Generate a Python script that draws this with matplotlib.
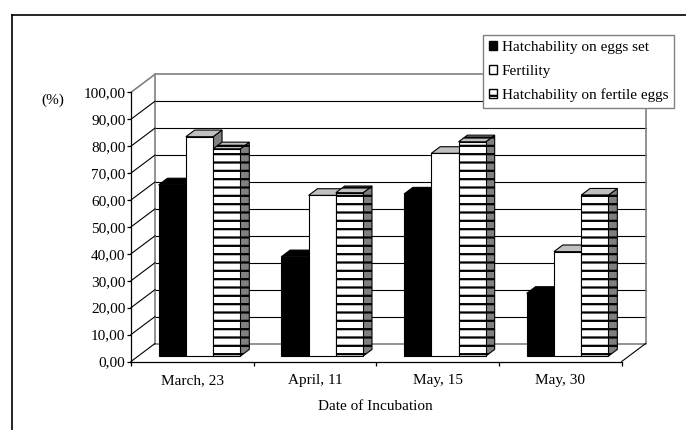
import numpy as np
import matplotlib
matplotlib.use("Agg")
import matplotlib.pyplot as plt
from matplotlib.patches import Polygon, Patch
from matplotlib.lines import Line2D

plt.rcParams['font.family'] = ['Liberation Serif', 'DejaVu Serif']
plt.rcParams['hatch.linewidth'] = 1.6

dates = ["March, 23", "April, 11", "May, 15", "May, 30"]
hatch_set = [63.6, 36.9, 60.2, 23.3]
fertility = [81.5, 59.7, 75.3, 38.8]
hatch_fertile = [77.0, 60.7, 79.6, 59.8]

series = [
    ("Hatchability on eggs set", hatch_set),
    ("Fertility", fertility),
    ("Hatchability on fertile eggs", hatch_fertile),
]
# face colours: front, top, side, hatch
styles = [
    ("black", "black", "black", None),
    ("white", "#c0c0c0", "#808080", None),
    ("white", "#c0c0c0", "#808080", "--"),
]

W, H = 686, 430
fs = 11
fig = plt.figure(figsize=(W / 100, H / 100), dpi=100)
ax = fig.add_axes([131 / W, (H - 361.5) / H, 490.7 / W, 269.2 / H])
n = len(dates)
ax.set_xlim(0, n)
ax.set_ylim(0, 100)

# depth of the 3d box in data units
Dx = 24 / (490.7 / n)
Dy = 18 / 2.692
f0, f1 = 0.30, 0.67

grey = "#808080"
# back wall + gridlines
for v in range(10, 100, 10):
    ax.plot([Dx, n + Dx], [v + Dy, v + Dy], color="black", lw=0.8, clip_on=False, zorder=1)
ax.plot([Dx, Dx, n + Dx, n + Dx, Dx], [Dy, 100 + Dy, 100 + Dy, Dy, Dy],
        color=grey, lw=1.2, clip_on=False, zorder=1)
# side wall lines
for v in range(0, 101, 10):
    ax.plot([0, Dx], [v, v + Dy], color=grey if v == 100 else "black",
            lw=0.8 if v < 100 else 1.2, clip_on=False, zorder=1)
# floor right edge
ax.plot([n, n + Dx], [0, Dy], color="black", lw=0.8, clip_on=False, zorder=1)

# bars
gap = 1 / 6
bw = (1 - 2 * gap) / 3
z = 2
for i in range(n):
    for j, (name, vals) in enumerate(series):
        front, top, side, hatch = styles[j]
        v = vals[i]
        x0 = i + gap + j * bw + f0 * Dx
        x1 = x0 + bw
        b0 = f0 * Dy
        ddx = (f1 - f0) * Dx
        ddy = (f1 - f0) * Dy
        side_poly = Polygon([(x1, b0), (x1 + ddx, b0 + ddy), (x1 + ddx, b0 + ddy + v), (x1, b0 + v)],
                            closed=True, facecolor=side, edgecolor="black", lw=0.8,
                            hatch=hatch, clip_on=False, zorder=z)
        top_poly = Polygon([(x0, b0 + v), (x1, b0 + v), (x1 + ddx, b0 + ddy + v), (x0 + ddx, b0 + ddy + v)],
                           closed=True, facecolor=top, edgecolor="black", lw=0.8,
                           hatch=hatch, clip_on=False, zorder=z)
        ax.add_patch(side_poly)
        ax.add_patch(top_poly)
        ax.bar(x0, v, width=bw, bottom=b0, align="edge", color=front, edgecolor="black",
               lw=0.8, hatch=hatch, clip_on=False, zorder=z + 0.5)
        z += 1

# axes
for s in ["top", "right"]:
    ax.spines[s].set_visible(False)
ax.spines["left"].set_linewidth(0.9)
ax.spines["bottom"].set_linewidth(0.9)
ax.spines["left"].set_zorder(100)
ax.spines["bottom"].set_zorder(100)
yt = np.arange(0, 101, 10)
ax.set_yticks(yt)
ax.set_yticklabels([f"{t:.2f}".replace(".", ",") for t in yt], fontsize=fs)
ax.tick_params(axis="y", direction="out", length=3, width=0.9, pad=1)
ax.set_xticks(np.arange(0, n + 1))
ax.set_xticklabels([])
ax.tick_params(axis="x", which="major", direction="out", length=3, width=0.9)
ax.set_xticks(np.arange(n) + 0.5, minor=True)
ax.set_xticklabels(dates, minor=True, fontsize=fs)
ax.tick_params(axis="x", which="minor", length=0, pad=9)

fig.text(53 / W, 1 - 100 / H, "(%)", ha="center", va="center", fontsize=fs)
fig.text(375 / W, 1 - 406 / H, "Date of Incubation", ha="center", va="center", fontsize=fs)

# outer frame
fig.add_artist(Line2D([12 / W, 12 / W], [0, 1 - 15 / H], color="black", lw=1.2, transform=fig.transFigure))
fig.add_artist(Line2D([12 / W, 1], [1 - 15 / H, 1 - 15 / H], color="black", lw=1.2, transform=fig.transFigure))

handles = [Patch(facecolor=s[0], edgecolor="black", hatch=s[3]) for s in styles]
leg = fig.legend(handles, [s[0] for s in series], loc="upper left",
                 bbox_to_anchor=(482.7 / W, 1 - 35 / H), borderaxespad=0,
                 fancybox=False, framealpha=1, edgecolor=grey, fontsize=fs,
                 handlelength=0.55, handleheight=0.55, handletextpad=0.3,
                 labelspacing=0.7, borderpad=0.4)
leg.get_frame().set_linewidth(1.0)
leg.set_zorder(200)

fig.savefig("out.png", dpi=100)
